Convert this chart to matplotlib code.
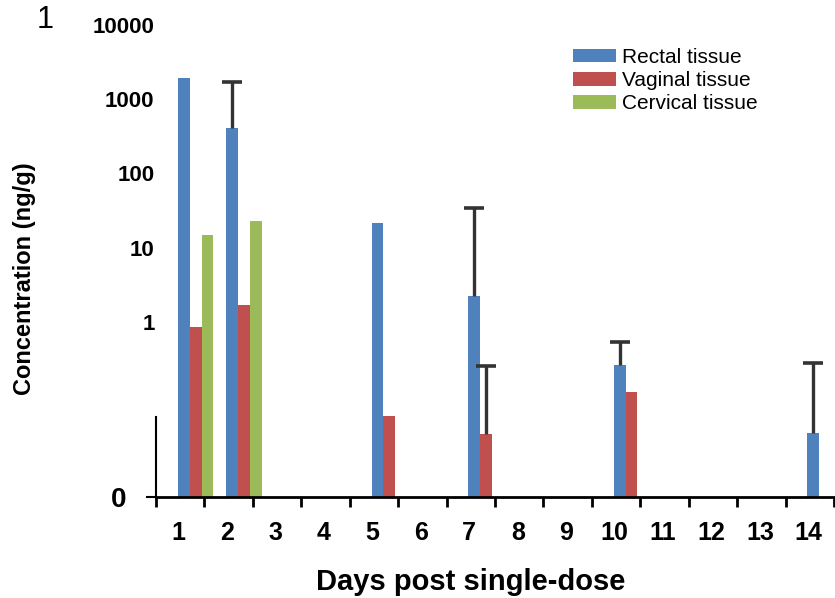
import numpy as np
import matplotlib
matplotlib.use("Agg")
import matplotlib.pyplot as plt

plt.rcParams['font.family'] = ['Liberation Sans', 'DejaVu Sans']

# days shown on the x axis (one slot per day 1..14)
days = ["1", "2", "3", "4", "5", "6", "7", "8", "9", "10", "11", "12", "13", "14"]

# mean concentrations (ng/g), None = no bar drawn
rectal = [1930, 409, None, None, 21.5, None, 2.23, None, None, 0.262, None, None, None, 0.0317]
vaginal = [0.85, 1.68, None, None, 0.054, None, 0.031, None, None, 0.113, None, None, None, None]
cervical = [14.8, 22.8, None, None, None, None, None, None, None, None, None, None, None, None]

# upper error bars (ng/g above the mean)
rectal_err = [0, 1297, 0, 0, 0, 0, 32.0, 0, 0, 0.272, 0, 0, 0, 0.247]
vaginal_err = [0, 0, 0, 0, 0, 0, 0.223, 0, 0, 0, 0, 0, 0, 0]

series_names = ["Rectal tissue", "Vaginal tissue", "Cervical tissue"]
colors = ["#4F81BD", "#C0504D", "#9BBB59"]

YMIN = 10 ** -2.36
YMAX = 1e4
BAR_W = 0.245


def draw_series(ax, values, errs, offset, color, label):
    x = []
    h = []
    e = []
    for i, v in enumerate(values):
        if v is None:
            continue
        x.append(i + offset)
        h.append(v - YMIN)
        e.append(errs[i] if errs is not None else 0)
    bars = ax.bar(x, h, width=BAR_W, bottom=YMIN, align="edge", color=color,
                  label=label, zorder=2)
    if errs is not None:
        # one-sided (upper) error bars with a cap only at the top
        xc = np.array([xx + BAR_W / 2 for xx, ee in zip(x, e) if ee > 0])
        yc = np.array([hh + YMIN for hh, ee in zip(h, e) if ee > 0])
        ec = np.array([ee for ee in e if ee > 0])
        ax.vlines(xc, yc, yc + ec, color="#333333", linewidth=2.4, zorder=3)
        ax.plot(xc, yc + ec, linestyle="none", marker="_", markersize=14,
                markeredgewidth=2.6, color="#333333", zorder=3)
    return bars


fig = plt.figure(figsize=(8.35, 5.98), dpi=100)
ax = fig.add_axes([156 / 835, 1 - 497 / 598, 679 / 835, 472 / 598])
ax.set_yscale("log")

h1 = draw_series(ax, rectal, rectal_err, 0.45, colors[0], series_names[0])
h2 = draw_series(ax, vaginal, vaginal_err, 0.45 + BAR_W, colors[1], series_names[1])
h3 = draw_series(ax, cervical, None, 0.45 + 2 * BAR_W, colors[2], series_names[2])

ax.set_xlim(0, 14.02)
ax.set_ylim(YMIN, YMAX)

# x axis: tick marks between days, labels in the middle
ax.set_xticks(np.arange(15))
ax.set_xticklabels([])
ax.tick_params(axis="x", which="major", direction="out", length=7, width=2)
ax.set_xticks(np.arange(14) + 0.47, days, minor=True)
ax.tick_params(axis="x", which="minor", length=0, pad=17, labelsize=18)
for t in ax.get_xticklabels(minor=True):
    t.set_fontweight("bold")

# y axis: decade labels without ticks, plus a "0" at the bottom
ax.set_yticks([1e4, 1e3, 100, 10, 1], ["10000", "1000", "100", "10", "1"])
ax.tick_params(axis="y", which="major", length=0, pad=1, labelsize=16)
for t in ax.get_yticklabels():
    t.set_fontweight("bold")
ax.set_yticks([YMIN], ["0"], minor=True)
ax.tick_params(axis="y", which="minor", length=7, width=1.5, pad=14, labelsize=20)
for t in ax.get_yticklabels(minor=True):
    t.set_fontweight("bold")

ax.spines["top"].set_visible(False)
ax.spines["right"].set_visible(False)
ax.spines["bottom"].set_linewidth(2)
ax.spines["left"].set_linewidth(1.5)
ax.spines["left"].set_bounds(YMIN, 10 ** -1.283)

fig.text(25 / 835, 1 - 279 / 598, "Concentration (ng/g)", rotation=90,
         ha="center", va="center", fontsize=17, fontweight="bold")
fig.text(471 / 835, 1 - 582 / 598, "Days post single-dose", ha="center",
         va="center", fontsize=21, fontweight="bold")
fig.text(45 / 835, 1 - 20 / 598, "1", ha="center", va="center", fontsize=22)

fig.legend(handles=[h1, h2, h3], labels=series_names, loc="upper left",
           bbox_to_anchor=(573 / 835, 1 - 48 / 598), bbox_transform=fig.transFigure,
           frameon=False, fontsize=15, handlelength=2.07, handleheight=0.63,
           handletextpad=0.3, labelspacing=0.2, borderpad=0, borderaxespad=0)

fig.savefig("out.png", dpi=100)
